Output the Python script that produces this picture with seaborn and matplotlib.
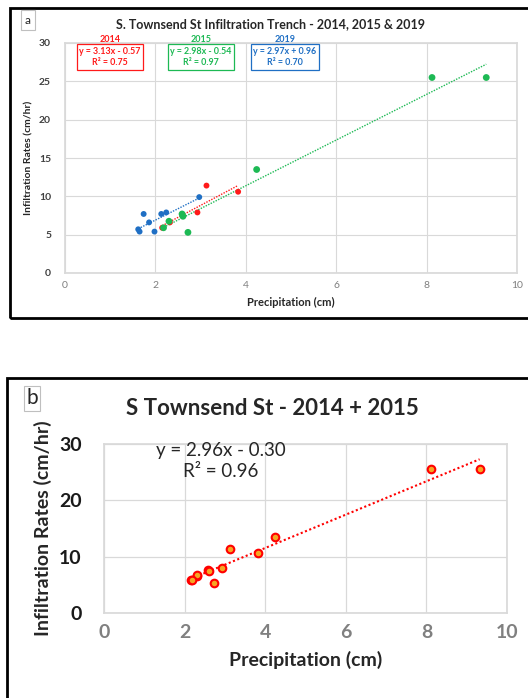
import numpy as np
import pandas as pd
import seaborn as sns
import matplotlib
matplotlib.use("Agg")
import matplotlib.pyplot as plt
from matplotlib.patches import Rectangle

sns.set_theme(style="whitegrid")
plt.rcParams['font.family'] = ['Lato', 'DejaVu Sans']

# ---- data ----
x2014 = [3.13, 3.83, 2.93, 2.32, 2.15]
y2014 = [11.4, 10.6, 7.9, 6.6, 5.9]
x2015 = [4.24, 2.59, 2.61, 2.30, 2.18, 2.72, 8.12, 9.32]
y2015 = [13.5, 7.7, 7.4, 6.75, 5.9, 5.3, 25.5, 25.5]
x2019 = [1.62, 1.65, 1.74, 1.86, 1.98, 2.13, 2.24, 2.97]
y2019 = [5.7, 5.4, 7.7, 6.6, 5.4, 7.7, 7.9, 9.9]
fits = {"2014": (3.13, -0.57, 0.75), "2015": (2.98, -0.54, 0.97), "2019": (2.97, 0.96, 0.70)}
fit_comb = (2.96, -0.30, 0.96)
xticks = [0, 2, 4, 6, 8, 10]
yticks_a = [0, 5, 10, 15, 20, 25, 30]
yticks_b = [0, 10, 20, 30]

colors = {"2014": "#ff1a1a", "2015": "#1db954", "2019": "#1f6fc4"}

df = pd.concat([
    pd.DataFrame({"x": x2014, "y": y2014, "year": "2014"}),
    pd.DataFrame({"x": x2015, "y": y2015, "year": "2015"}),
    pd.DataFrame({"x": x2019, "y": y2019, "year": "2019"}),
], ignore_index=True)

W, H = 528, 698
fig = plt.figure(figsize=(W / 100, H / 100), dpi=100)

def ax_rect(l, r, t, b):
    return [l / W, 1 - b / H, (r - l) / W, (b - t) / H]

# borders
fig.add_artist(Rectangle((10 / W, 1 - 318 / H), 530 / W, 310 / H, transform=fig.transFigure,
                         fill=False, lw=2, ec="black"))
fig.add_artist(Rectangle((7 / W, -0.01), 530 / W, (698 - 378) / H + 0.01, transform=fig.transFigure,
                         fill=False, lw=2, ec="black"))

grid_c = "#d9d9d9"

# ---------- panel a ----------
axa = fig.add_axes(ax_rect(65, 517, 43, 273))
for yr in ["2019", "2014", "2015"]:
    sub = df[df.year == yr]
    sns.scatterplot(data=sub, x="x", y="y", ax=axa, color=colors[yr], s=18 if yr != "2015" else 24,
                    edgecolor="none", zorder=3, legend=False)
    m, c, r2 = fits[yr]
    xs = np.array([sub.x.min(), sub.x.max()])
    axa.plot(xs, m * xs + c, ls=(0, (1, 1)), lw=1.0, color=colors[yr], zorder=2)
axa.set_xlim(0, 10)
axa.set_ylim(0, 30)
axa.set_xticks(xticks)
axa.set_yticks(yticks_a)
axa.grid(True, color=grid_c, lw=0.8)
for s in axa.spines.values():
    s.set_color(grid_c)
axa.tick_params(axis="x", labelsize=7.5, colors="#7f7f7f", pad=6, length=0)
axa.tick_params(axis="y", labelsize=7.5, colors="#404040", pad=10, length=0)
for lbl in axa.get_yticklabels():
    lbl.set_fontweight("bold")
axa.set_xlabel("Precipitation (cm)", fontsize=8, fontweight="bold", color="#262626", labelpad=5)
axa.set_ylabel("Infiltration Rates (cm/hr)", fontsize=7.5, fontweight="bold", color="#262626", labelpad=4)

fig.text(271 / W, 1 - 24 / H, "S. Townsend St Infiltration Trench - 2014, 2015 & 2019",
         ha="center", va="center", fontsize=9, fontweight="bold", color="#262626")
fig.text(28 / W, 1 - 20 / H, "a", ha="center", va="center", fontsize=8.5, color="#262626",
         bbox=dict(boxstyle="square,pad=0.35", fc="white", ec="#bfbfbf", lw=0.8))

box_centers = {"2014": 110, "2015": 201, "2019": 285}
for yr, cx in box_centers.items():
    m, c, r2 = fits[yr]
    sign = "+" if c >= 0 else "-"
    fig.text(cx / W, 1 - 40 / H, yr, ha="center", va="center", fontsize=6.5, fontweight="bold",
             color=colors[yr])
    fig.text(cx / W, 1 - 57 / H, f"y = {m:.2f}x {sign} {abs(c):.2f}\nR² = {r2:.2f}", ha="center",
             va="center", fontsize=6.4, fontweight="bold", color=colors[yr], linespacing=1.3,
             bbox=dict(boxstyle="square,pad=0.3", fc="white", ec=colors[yr], lw=0.9))

# ---------- panel b ----------
axb = fig.add_axes(ax_rect(104, 507, 444, 613))
comb = df[df.year.isin(["2014", "2015"])]
sns.scatterplot(data=comb, x="x", y="y", ax=axb, color="#f5a623", s=30, edgecolor="#ff0000",
                linewidth=1.5, zorder=3, legend=False)
m, c, r2 = fit_comb
xs = np.array([comb.x.min(), comb.x.max()])
axb.plot(xs, m * xs + c, ls=(0, (1, 1.2)), lw=1.5, color="#ff0000", zorder=2)
axb.set_xlim(0, 10)
axb.set_ylim(0, 30)
axb.set_xticks(xticks)
axb.set_yticks(yticks_b)
axb.grid(True, color=grid_c, lw=0.9)
for s in axb.spines.values():
    s.set_color(grid_c)
axb.tick_params(axis="x", labelsize=14, colors="#808080", pad=8, length=0)
axb.tick_params(axis="y", labelsize=14, colors="#1a1a1a", pad=16, length=0)
for lbl in axb.get_xticklabels() + axb.get_yticklabels():
    lbl.set_fontweight("bold")
axb.set_xlabel("Precipitation (cm)", fontsize=14, fontweight="bold", color="#262626", labelpad=7)
axb.set_ylabel("Infiltration Rates (cm/hr)", fontsize=14, fontweight="bold", color="#262626",
               labelpad=5)
axb.text(2.9, 27.0, f"y = {m:.2f}x - {abs(c):.2f}\nR² = {r2:.2f}", ha="center", va="center",
         fontsize=13.5, color="#262626", linespacing=1.25)

fig.text(272 / W, 1 - 408 / H, "S Townsend St - 2014 + 2015", ha="center", va="center",
         fontsize=16, fontweight="bold", color="#262626")
fig.text(32 / W, 1 - 398 / H, "b", ha="center", va="center", fontsize=15, color="#262626",
         bbox=dict(boxstyle="square,pad=0.12", fc="white", ec="#bfbfbf", lw=0.8))

fig.savefig("out.png", dpi=100)
